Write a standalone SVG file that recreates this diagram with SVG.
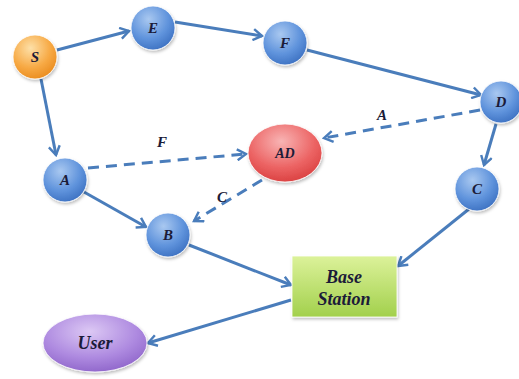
<svg xmlns="http://www.w3.org/2000/svg" width="519" height="379" viewBox="0 0 519 379">
  <defs>
    <radialGradient id="gBlue" cx="40%" cy="30%" r="75%">
      <stop offset="0" stop-color="#a9c8f0"/>
      <stop offset="0.6" stop-color="#5f93dc"/>
      <stop offset="1" stop-color="#3b6fc0"/>
    </radialGradient>
    <radialGradient id="gOrange" cx="40%" cy="30%" r="75%">
      <stop offset="0" stop-color="#fde0a8"/>
      <stop offset="0.6" stop-color="#f7a944"/>
      <stop offset="1" stop-color="#e98a1c"/>
    </radialGradient>
    <radialGradient id="gRed" cx="45%" cy="30%" r="75%">
      <stop offset="0" stop-color="#f8b4b4"/>
      <stop offset="0.6" stop-color="#ec6464"/>
      <stop offset="1" stop-color="#d83c3c"/>
    </radialGradient>
    <radialGradient id="gPurple" cx="45%" cy="30%" r="75%">
      <stop offset="0" stop-color="#dcc8f4"/>
      <stop offset="0.6" stop-color="#ae8ae0"/>
      <stop offset="1" stop-color="#8c62c8"/>
    </radialGradient>
    <linearGradient id="gGreen" x1="0" y1="0" x2="0" y2="1">
      <stop offset="0" stop-color="#dcf29a"/>
      <stop offset="1" stop-color="#a2d04c"/>
    </linearGradient>
    <filter id="shadow" x="-20%" y="-20%" width="150%" height="150%">
      <feDropShadow dx="1" dy="2" stdDeviation="1.5" flood-color="#000" flood-opacity="0.25"/>
    </filter>
    <marker id="arrow" viewBox="0 0 12 12" refX="10" refY="6" markerWidth="4.4" markerHeight="4.4" orient="auto" markerUnits="strokeWidth">
      <path d="M2,1 L10,6 L2,11" fill="none" stroke="#4a7dbb" stroke-width="2.2"/>
    </marker>
  </defs>
  <style>
    .edge { fill: none; stroke: #4a7dbb; stroke-width: 3; marker-end: url(#arrow); }
    .dash { stroke-dasharray: 11 7; }
    .node { stroke: #ffffff; stroke-width: 0.8; filter: url(#shadow); }
    .lbl { font-family: "Liberation Serif", "DejaVu Serif", serif; font-weight: bold; font-style: italic; font-size: 15px; fill: #1b1b38; text-anchor: middle; }
    .big { font-size: 18px; }
  </style>
  <rect width="519" height="379" fill="#ffffff"/>

  <!-- connectors -->
  <g id="edges">
    <line class="edge" x1="57" y1="50" x2="129" y2="31"/>
    <line class="edge" x1="175" y1="22" x2="262" y2="36"/>
    <line class="edge" x1="307" y1="50" x2="481" y2="95"/>
    <line class="edge" x1="41" y1="79" x2="56" y2="155"/>
    <line class="edge" x1="496" y1="124" x2="484" y2="165"/>
    <line class="edge" x1="84" y1="192" x2="146" y2="227"/>
    <line class="edge" x1="189" y1="245" x2="291" y2="285"/>
    <line class="edge" x1="469" y1="209" x2="398" y2="266"/>
    <line class="edge" x1="291" y1="300" x2="148" y2="343"/>
    <line class="edge dash" x1="88" y1="168" x2="246" y2="154"/>
    <line class="edge dash" x1="480" y1="110" x2="324" y2="138"/>
    <line class="edge dash" x1="262" y1="180" x2="194" y2="221"/>
    <text class="lbl" x="162" y="147">F</text>
    <text class="lbl" x="382" y="120">A</text>
    <text class="lbl" x="222" y="202">C</text>
  </g>

  <g id="node-S">
    <circle class="node" cx="35" cy="57" r="22" fill="url(#gOrange)"/>
    <text class="lbl" x="35" y="62">S</text>
  </g>
  <g id="node-E">
    <circle class="node" cx="153" cy="28" r="22" fill="url(#gBlue)"/>
    <text class="lbl" x="153" y="33">E</text>
  </g>
  <g id="node-F">
    <circle class="node" cx="285" cy="43" r="22" fill="url(#gBlue)"/>
    <text class="lbl" x="285" y="48">F</text>
  </g>
  <g id="node-D">
    <circle class="node" cx="501" cy="102" r="21" fill="url(#gBlue)"/>
    <text class="lbl" x="501" y="107">D</text>
  </g>
  <g id="node-AD">
    <ellipse class="node" cx="285" cy="153" rx="37" ry="29" fill="url(#gRed)"/>
    <text class="lbl" x="285" y="158" style="font-size:14px">AD</text>
  </g>
  <g id="node-A">
    <circle class="node" cx="65" cy="180" r="22" fill="url(#gBlue)"/>
    <text class="lbl" x="65" y="185">A</text>
  </g>
  <g id="node-C">
    <circle class="node" cx="477" cy="189" r="22" fill="url(#gBlue)"/>
    <text class="lbl" x="477" y="194">C</text>
  </g>
  <g id="node-B">
    <circle class="node" cx="168" cy="235" r="22" fill="url(#gBlue)"/>
    <text class="lbl" x="168" y="240">B</text>
  </g>
  <g id="node-base">
    <rect class="node" x="292" y="256" width="105" height="61" fill="url(#gGreen)" stroke="#b5d46a"/>
    <text class="lbl big" x="344" y="283" fill="#1e2410">Base</text>
    <text class="lbl big" x="344" y="305" fill="#1e2410">Station</text>
  </g>
  <g id="node-user">
    <ellipse class="node" cx="95" cy="343" rx="52" ry="29" fill="url(#gPurple)"/>
    <text class="lbl big" x="95" y="349">User</text>
  </g>
</svg>
